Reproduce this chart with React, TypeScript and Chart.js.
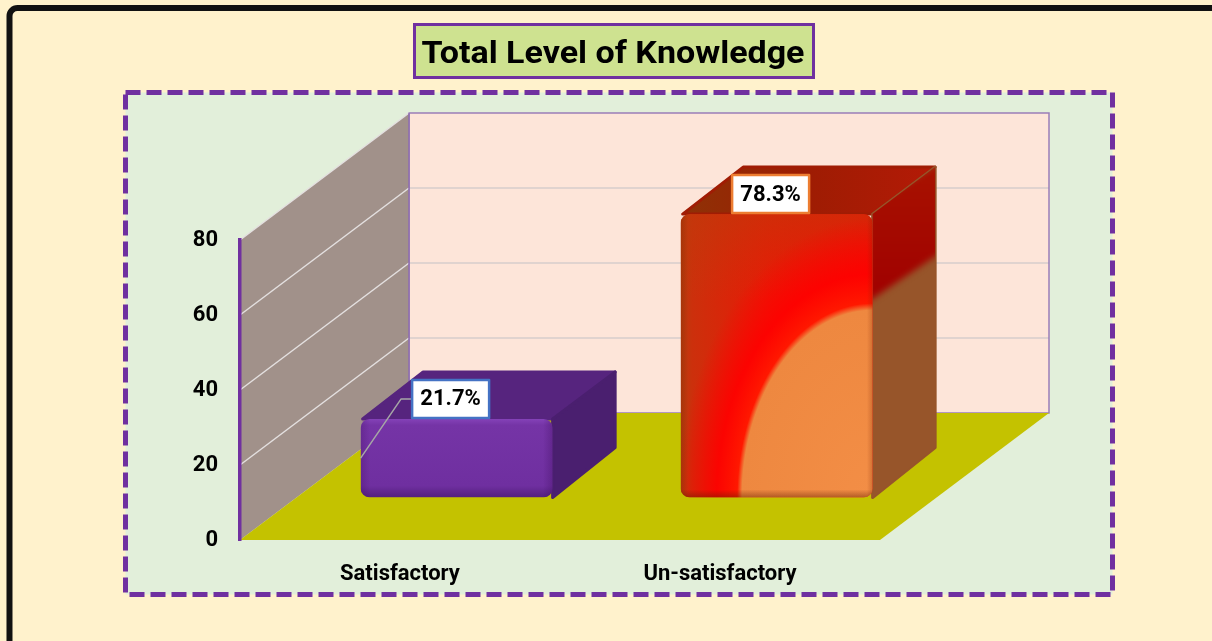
import React, { useEffect, useRef } from "react";
import { Chart, registerables } from "chart.js";

Chart.register(...registerables);

// ---------- data ----------
const categories = ["Satisfactory", "Un-satisfactory"];
const percentValues = [21.7, 78.3];
const valueLabels = ["21.7%", "78.3%"];
const yTickValues = [0, 20, 40, 60, 80];
const chartTitle = "Total Level of Knowledge";

// ---------- style ----------
const W = 1212;
const H = 641;
const FONT = "Roboto, 'Noto Sans', sans-serif";
const DEPTH = { x: 169, y: -127 }; // depth of the 3D floor
const BAR_SHIFT = 0.335; // where the bars sit inside the depth
const BAR_DEPTH = 0.37; // bar thickness (fraction of depth)
const BAR_PERSPECTIVE = 0.965;
const LABEL_OFFSET = { x: -6, y: -20 };
const LABEL_BOX = { w: 77, h: 38 };
const labelBorderColors = ["#4472C4", "#ED7D31"];
const labelLeader = [true, false];

function drawBackground(chart: any) {
  const { ctx, chartArea, scales } = chart;
  const ys = scales.y;
  ctx.save();
  // page
  ctx.fillStyle = "#FFF2CC";
  ctx.fillRect(0, 0, W, H);
  // black frame
  ctx.strokeStyle = "#111111";
  ctx.lineWidth = 6;
  ctx.beginPath();
  ctx.roundRect(9.5, 8, W + 40, H + 40, 8);
  ctx.stroke();

  // title box
  ctx.fillStyle = "#CEE290";
  ctx.fillRect(414.5, 24.5, 399, 53);
  ctx.strokeStyle = "#7030A0";
  ctx.lineWidth = 3;
  ctx.strokeRect(414.5, 24.5, 399, 53);
  ctx.font = `bold 32px ${FONT}`;
  ctx.fillStyle = "#000000";
  ctx.textAlign = "center";
  ctx.textBaseline = "alphabetic";
  const tw = ctx.measureText(chartTitle).width;
  ctx.save();
  ctx.translate(613, 63);
  ctx.scale(383 / tw, 1);
  ctx.fillText(chartTitle, 0, 0);
  ctx.restore();

  // dashed plot frame
  ctx.fillStyle = "#E2EFDA";
  ctx.fillRect(125.5, 92.5, 987, 502);
  ctx.setLineDash([15, 6]);
  ctx.lineWidth = 5;
  ctx.strokeStyle = "#7030A0";
  ctx.strokeRect(125.5, 92.5, 987, 502);
  ctx.setLineDash([]);

  // 3D walls
  const L = chartArea.left;
  const R = chartArea.right;
  const y0 = ys.getPixelForValue(yTickValues[0]);
  const yMax = ys.getPixelForValue(yTickValues[yTickValues.length - 1]);
  const dx = DEPTH.x;
  const dy = DEPTH.y;

  // back wall
  ctx.fillStyle = "#FDE5D9";
  ctx.fillRect(L + dx, yMax + dy, R - L, y0 - yMax);
  ctx.strokeStyle = "#D6CCCB";
  ctx.lineWidth = 1.5;
  yTickValues.slice(1, -1).forEach((v) => {
    const y = ys.getPixelForValue(v) + dy;
    ctx.beginPath();
    ctx.moveTo(L + dx, y);
    ctx.lineTo(R + dx, y);
    ctx.stroke();
  });
  ctx.strokeStyle = "#9A7DB8";
  ctx.lineWidth = 1.5;
  ctx.strokeRect(L + dx, yMax + dy, R - L, y0 - yMax);

  // side wall
  ctx.fillStyle = "#A1918A";
  ctx.beginPath();
  ctx.moveTo(L, y0);
  ctx.lineTo(L, yMax);
  ctx.lineTo(L + dx, yMax + dy);
  ctx.lineTo(L + dx, y0 + dy);
  ctx.closePath();
  ctx.fill();
  ctx.strokeStyle = "#E4E0E0";
  ctx.lineWidth = 1.5;
  yTickValues.slice(1).forEach((v) => {
    const y = ys.getPixelForValue(v);
    ctx.beginPath();
    ctx.moveTo(L, y);
    ctx.lineTo(L + dx, y + dy);
    ctx.stroke();
  });
  ctx.strokeStyle = "#8E6CB0";
  ctx.beginPath();
  ctx.moveTo(L + dx, yMax + dy);
  ctx.lineTo(L + dx, y0 + dy);
  ctx.stroke();

  // floor
  ctx.fillStyle = "#C4C200";
  ctx.beginPath();
  ctx.moveTo(L, y0);
  ctx.lineTo(R, y0);
  ctx.lineTo(R + dx, y0 + dy);
  ctx.lineTo(L + dx, y0 + dy);
  ctx.closePath();
  ctx.fill();
  ctx.restore();
}

function poly(ctx: any, pts: number[][]) {
  ctx.beginPath();
  ctx.moveTo(pts[0][0], pts[0][1]);
  for (let i = 1; i < pts.length; i++) ctx.lineTo(pts[i][0], pts[i][1]);
  ctx.closePath();
}

function fillRounded(ctx: any, fill: any, edge: string) {
  ctx.fillStyle = fill;
  ctx.fill();
  ctx.lineJoin = "round";
  ctx.lineWidth = 3;
  ctx.strokeStyle = edge;
  ctx.stroke();
}

function drawPurpleBar(ctx: any, left: number, right: number, top: number, bottom: number, bdx: number, bdy: number) {
  const w = right - left;
  // top face
  poly(ctx, [[left + 2, top], [left + bdx, top + bdy], [right + bdx, top + bdy], [right, top]]);
  fillRounded(ctx, "#56247E", "#56247E");
  // side face
  poly(ctx, [[right, top], [right + bdx, top + bdy], [right + bdx, bottom + bdy - 3], [right, bottom]]);
  fillRounded(ctx, "#4A1F6F", "#4A1F6F");
  // front face
  ctx.save();
  ctx.beginPath();
  ctx.roundRect(left, top, w, bottom - top, 9);
  ctx.clip();
  const g = ctx.createLinearGradient(0, top, 0, bottom);
  g.addColorStop(0, "#8442B8");
  g.addColorStop(0.08, "#7534A6");
  g.addColorStop(0.85, "#6F2FA0");
  g.addColorStop(1, "#54207E");
  ctx.fillStyle = g;
  ctx.fillRect(left, top, w, bottom - top);
  const g2 = ctx.createLinearGradient(left, 0, right, 0);
  g2.addColorStop(0, "rgba(60,10,90,0.25)");
  g2.addColorStop(0.05, "rgba(60,10,90,0)");
  g2.addColorStop(0.95, "rgba(60,10,90,0)");
  g2.addColorStop(1, "rgba(60,10,90,0.3)");
  ctx.fillStyle = g2;
  ctx.fillRect(left, top, w, bottom - top);
  ctx.restore();
}

function drawRedBar(ctx: any, left: number, right: number, top: number, bottom: number, bdx: number, bdy: number) {
  const w = right - left;
  const h = bottom - top;
  // top face
  poly(ctx, [[left + 2, top], [left + bdx, top + bdy], [right + bdx, top + bdy], [right, top]]);
  const gt = ctx.createLinearGradient(left, 0, right + bdx, 0);
  gt.addColorStop(0, "#8E3206");
  gt.addColorStop(0.5, "#9E1C03");
  gt.addColorStop(1, "#B41A06");
  fillRounded(ctx, gt, "#A01C04");
  // side face
  const split = top + h * 0.31;
  ctx.save();
  poly(ctx, [[right, top], [right + bdx, top + bdy], [right + bdx, bottom + bdy - 3], [right, bottom]]);
  ctx.lineJoin = "round";
  ctx.lineWidth = 3;
  ctx.strokeStyle = "#97552A";
  ctx.stroke();
  ctx.clip();
  ctx.fillStyle = "#97552A";
  ctx.fillRect(right - 2, top + bdy - 2, bdx + 4, h - bdy + 10);
  ctx.filter = "blur(3px)";
  poly(ctx, [[right - 5, top - 5], [right + bdx + 5, top + bdy - 5], [right + bdx + 5, split + bdy - 2], [right - 5, split]]);
  const gs = ctx.createLinearGradient(0, top + bdy, 0, split);
  gs.addColorStop(0, "#A81200");
  gs.addColorStop(1, "#A00000");
  ctx.fillStyle = gs;
  ctx.fill();
  ctx.filter = "none";
  ctx.restore();
  // front face
  ctx.save();
  ctx.beginPath();
  ctx.roundRect(left, top, w, h, 9);
  ctx.clip();
  const g = ctx.createLinearGradient(left, 0, right, 0);
  g.addColorStop(0, "#B8400E");
  g.addColorStop(0.06, "#CC300C");
  g.addColorStop(0.45, "#E81A06");
  g.addColorStop(1, "#F40C04");
  ctx.fillStyle = g;
  ctx.fillRect(left, top, w, h);
  const gv = ctx.createLinearGradient(0, top, 0, bottom);
  gv.addColorStop(0, "rgba(190,60,10,0.55)");
  gv.addColorStop(0.3, "rgba(190,60,10,0)");
  gv.addColorStop(1, "rgba(190,60,10,0)");
  ctx.fillStyle = gv;
  ctx.fillRect(left, top, w, h);
  // orange glow from bottom-right corner
  ctx.save();
  ctx.translate(right, bottom);
  ctx.scale(w * 0.7, h * 0.68);
  const rg = ctx.createRadialGradient(0, 0, 0, 0, 0, 1.45);
  rg.addColorStop(0, "#F38E46");
  rg.addColorStop(0.67, "#EE8840");
  rg.addColorStop(0.695, "#FF1800");
  rg.addColorStop(0.8, "rgba(255,0,0,0.9)");
  rg.addColorStop(1, "rgba(255,0,0,0)");
  ctx.fillStyle = rg;
  ctx.fillRect(-1.6, -1.6, 1.6, 1.6);
  ctx.restore();
  // bevel shading
  const g2 = ctx.createLinearGradient(left, 0, right, 0);
  g2.addColorStop(0, "rgba(120,30,0,0.3)");
  g2.addColorStop(0.04, "rgba(120,30,0,0)");
  g2.addColorStop(0.97, "rgba(120,30,0,0)");
  g2.addColorStop(1, "rgba(120,30,0,0.25)");
  ctx.fillStyle = g2;
  ctx.fillRect(left, top, w, h);
  const g3 = ctx.createLinearGradient(0, bottom - 8, 0, bottom);
  g3.addColorStop(0, "rgba(100,30,0,0)");
  g3.addColorStop(1, "rgba(100,30,0,0.45)");
  ctx.fillStyle = g3;
  ctx.fillRect(left, bottom - 8, w, 8);
  ctx.restore();
}

const bars3dPlugin = {
  id: "bars3d",
  beforeDraw(chart: any) {
    drawBackground(chart);
  },
  afterDatasetsDraw(chart: any) {
    const { ctx } = chart;
    const meta = chart.getDatasetMeta(0);
    const shiftX = DEPTH.x * BAR_SHIFT;
    const shiftY = DEPTH.y * BAR_SHIFT;
    const bdx = DEPTH.x * BAR_DEPTH;
    const bdy = DEPTH.y * BAR_DEPTH;
    meta.data.forEach((bar: any, i: number) => {
      const p = bar.getProps(["x", "y", "base", "width"], true);
      const cx = p.x + shiftX;
      const bottom = p.base + shiftY;
      const top = bottom - (p.base - p.y) * BAR_PERSPECTIVE;
      const left = cx - p.width / 2;
      const right = cx + p.width / 2;
      ctx.save();
      if (i === 0) drawPurpleBar(ctx, left, right, top, bottom, bdx, bdy);
      else drawRedBar(ctx, left, right, top, bottom, bdx, bdy);

      // data label
      const lx = cx + LABEL_OFFSET.x - LABEL_BOX.w / 2;
      const ly = top + LABEL_OFFSET.y - LABEL_BOX.h / 2;
      if (labelLeader[i]) {
        ctx.strokeStyle = "#A6A6A6";
        ctx.lineWidth = 1.5;
        ctx.beginPath();
        ctx.moveTo(lx, ly + LABEL_BOX.h / 2);
        ctx.lineTo(lx - 11, ly + LABEL_BOX.h / 2);
        ctx.lineTo(left, (top + bottom) / 2);
        ctx.stroke();
      }
      ctx.fillStyle = "#FFFFFF";
      ctx.fillRect(lx, ly, LABEL_BOX.w, LABEL_BOX.h);
      ctx.strokeStyle = labelBorderColors[i];
      ctx.lineWidth = 2.5;
      ctx.strokeRect(lx, ly, LABEL_BOX.w, LABEL_BOX.h);
      ctx.fillStyle = "#000000";
      ctx.font = `bold 22px ${FONT}`;
      ctx.textAlign = "center";
      ctx.textBaseline = "middle";
      ctx.fillText(valueLabels[i], lx + LABEL_BOX.w / 2, ly + LABEL_BOX.h / 2 + 1);
      ctx.restore();
    });
  },
};

export default function App() {
  const canvasRef = useRef<HTMLCanvasElement | null>(null);

  useEffect(() => {
    const canvas = canvasRef.current;
    if (!canvas) return;
    const chart = new Chart(canvas, {
      type: "bar",
      data: {
        labels: categories,
        datasets: [
          {
            data: percentValues,
            backgroundColor: "rgba(0,0,0,0)",
            borderWidth: 0,
            barPercentage: 0.6,
            categoryPercentage: 1,
          },
        ],
      },
      options: {
        responsive: false,
        animation: false,
        devicePixelRatio: 1,
        layout: { padding: { left: 0, right: W - 880, top: 240, bottom: H - 540 - 60 } },
        plugins: {
          legend: { display: false },
          tooltip: { enabled: false },
          title: { display: false },
        },
        scales: {
          x: {
            grid: { display: false, drawTicks: false },
            border: { display: false },
            ticks: {
              color: "#000000",
              padding: 21,
              font: { family: FONT, weight: "bold", size: 22 },
            },
            afterFit: (s: any) => {
              s.height = 60;
            },
          },
          y: {
            min: 0,
            max: 80,
            afterBuildTicks: (s: any) => {
              s.ticks = yTickValues.map((v) => ({ value: v }));
            },
            grid: { display: false, drawTicks: false },
            border: { display: true, color: "#7030A0", width: 3.5 },
            ticks: {
              color: "#000000",
              padding: 22,
              font: { family: FONT, weight: "bold", size: 22 },
            },
            afterFit: (s: any) => {
              s.width = 240;
            },
          },
        },
      },
      plugins: [bars3dPlugin],
    } as any);
    return () => chart.destroy();
  }, []);

  return (
    <div style={{ position: "fixed", left: 0, top: 0, width: W, height: H, overflow: "hidden" }}>
      <canvas ref={canvasRef} width={W} height={H} style={{ display: "block", width: W, height: H }} />
    </div>
  );
}
